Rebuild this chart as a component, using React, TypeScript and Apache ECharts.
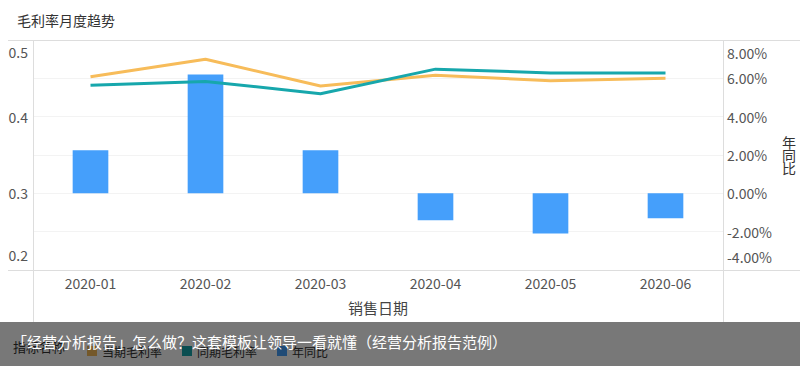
import React, { useEffect, useRef } from "react";
import * as echarts from "echarts";

const months = ["2020-01", "2020-02", "2020-03", "2020-04", "2020-05", "2020-06"];
const currentMargin = [0.452, 0.475, 0.44, 0.454, 0.447, 0.45];
const lastYearMargin = [0.441, 0.446, 0.43, 0.462, 0.457, 0.457];
const yoyPercent = [2.25, 6.2, 2.25, -1.4, -2.1, -1.3];
const seriesNames = ["当期毛利率", "同期毛利率", "年同比"];

const FONT = '"Noto Sans CJK SC", "Noto Sans", sans-serif';
const LABEL_COLOR = "#555";

export default function App() {
  const ref = useRef<HTMLDivElement>(null);
  useEffect(() => {
    if (!ref.current) return;
    const chart = echarts.init(ref.current, null, { renderer: "svg" });
    const lineColor = "#dddddd";
    chart.setOption({
      animation: false,
      textStyle: { fontFamily: FONT },
      title: {
        text: "毛利率月度趋势",
        left: 12,
        top: 8,
        textStyle: { fontSize: 14, fontWeight: "normal", color: "#333", fontFamily: FONT },
      },
      grid: { left: 33, right: 77, top: 40, bottom: 96, containLabel: false },
      legend: {
        data: seriesNames,
        left: 82,
        top: 340,
        icon: "rect",
        itemWidth: 10,
        itemHeight: 10,
        itemGap: 20,
        textStyle: { fontSize: 12, color: "#333", fontFamily: FONT },
      },
      xAxis: {
        type: "category",
        data: months,
        axisLine: { show: false },
        axisTick: { show: false },
        axisLabel: { margin: 6, fontSize: 14, color: LABEL_COLOR, fontFamily: FONT },
        name: "销售日期",
        nameLocation: "middle",
        nameGap: 30,
        nameTextStyle: { fontSize: 15, color: "#444", fontFamily: FONT },
      },
      yAxis: [
        {
          type: "value",
          min: 0.2,
          max: 0.5,
          interval: 0.1,
          splitLine: { show: false },
          axisLine: { show: false },
          axisTick: { show: false },
          axisLabel: {
            margin: 5,
            fontSize: 14,
            color: LABEL_COLOR,
            fontFamily: FONT,
            formatter: (v: number) => {
              const s = (Math.round(v * 10) / 10).toString();
              if (Math.abs(v - 0.5) < 1e-6) return "{top|" + s + "}";
              if (Math.abs(v - 0.2) < 1e-6) return "{bot|" + s + "}";
              return s;
            },
            rich: {
              top: { padding: [24, 0, 0, 0], fontSize: 14, color: LABEL_COLOR, fontFamily: FONT },
              bot: { padding: [0, 0, 30, 0], fontSize: 14, color: LABEL_COLOR, fontFamily: FONT },
            },
          },
        },
        {
          type: "value",
          min: -4,
          max: 8,
          interval: 2,
          position: "right",
          splitLine: { show: true, lineStyle: { color: "#f3f3f3", width: 1 } },
          axisLine: { show: false },
          axisTick: { show: false },
          name: "年\n同\n比",
          nameLocation: "middle",
          nameRotate: 0,
          nameGap: 59,
          nameTextStyle: { fontSize: 14, lineHeight: 13, color: "#333", fontFamily: FONT, padding: [10, 0, 0, 0] },
          axisLabel: {
            margin: 4,
            fontSize: 14,
            color: LABEL_COLOR,
            fontFamily: FONT,
            formatter: (v: number) => {
              const s = v.toFixed(2) + "%";
              if (v === 8) return "{top|" + s + "}";
              if (v === -4) return "{bot|" + s + "}";
              return s;
            },
            rich: {
              top: { padding: [26, 0, 0, 0], fontSize: 14, color: LABEL_COLOR, fontFamily: FONT },
              bot: { padding: [0, 0, 26, 0], fontSize: 14, color: LABEL_COLOR, fontFamily: FONT },
            },
          },
        },
      ],
      series: [
        {
          name: seriesNames[0],
          type: "line",
          yAxisIndex: 0,
          data: currentMargin,
          symbol: "none",
          lineStyle: { width: 3, color: "#f7bc5a" },
          itemStyle: { color: "#f7bc5a" },
        },
        {
          name: seriesNames[1],
          type: "line",
          yAxisIndex: 0,
          data: lastYearMargin,
          symbol: "none",
          lineStyle: { width: 3, color: "#17a7ac" },
          itemStyle: { color: "#17a7ac" },
        },
        {
          name: seriesNames[2],
          type: "bar",
          yAxisIndex: 1,
          data: yoyPercent,
          barWidth: "31%",
          itemStyle: { color: "#459ffb" },
        },
      ],
      graphic: [
        { type: "line", shape: { x1: 8, y1: 40.5, x2: 800, y2: 40.5 }, style: { stroke: lineColor, lineWidth: 1 }, z: 10 },
        { type: "line", shape: { x1: 8, y1: 270.5, x2: 800, y2: 270.5 }, style: { stroke: lineColor, lineWidth: 1 }, z: 10 },
        { type: "line", shape: { x1: 33.5, y1: 40, x2: 33.5, y2: 322 }, style: { stroke: lineColor, lineWidth: 1 }, z: 10 },
        { type: "line", shape: { x1: 723.5, y1: 40, x2: 723.5, y2: 322 }, style: { stroke: lineColor, lineWidth: 1 }, z: 10 },
        {
          type: "text",
          left: 13,
          top: 340,
          style: { text: "指标名称", fontSize: 13, fill: "#333", fontFamily: FONT },
          z: 10,
        },
        {
          type: "rect",
          shape: { x: 0, y: 322, width: 800, height: 44 },
          style: { fill: "rgba(0,0,0,0.53)" },
          z: 100,
        },
        {
          type: "text",
          left: 12,
          top: 334,
          style: {
            text: "「经营分析报告」怎么做？这套模板让领导一看就懂（经营分析报告范例）",
            fontSize: 15,
            fill: "#ffffff",
            fontFamily: FONT,
          },
          z: 101,
        },
      ],
    });
    return () => chart.dispose();
  }, []);
  return <div ref={ref} style={{ width: 800, height: 366, position: "absolute", left: 0, top: 0 }} />;
}
